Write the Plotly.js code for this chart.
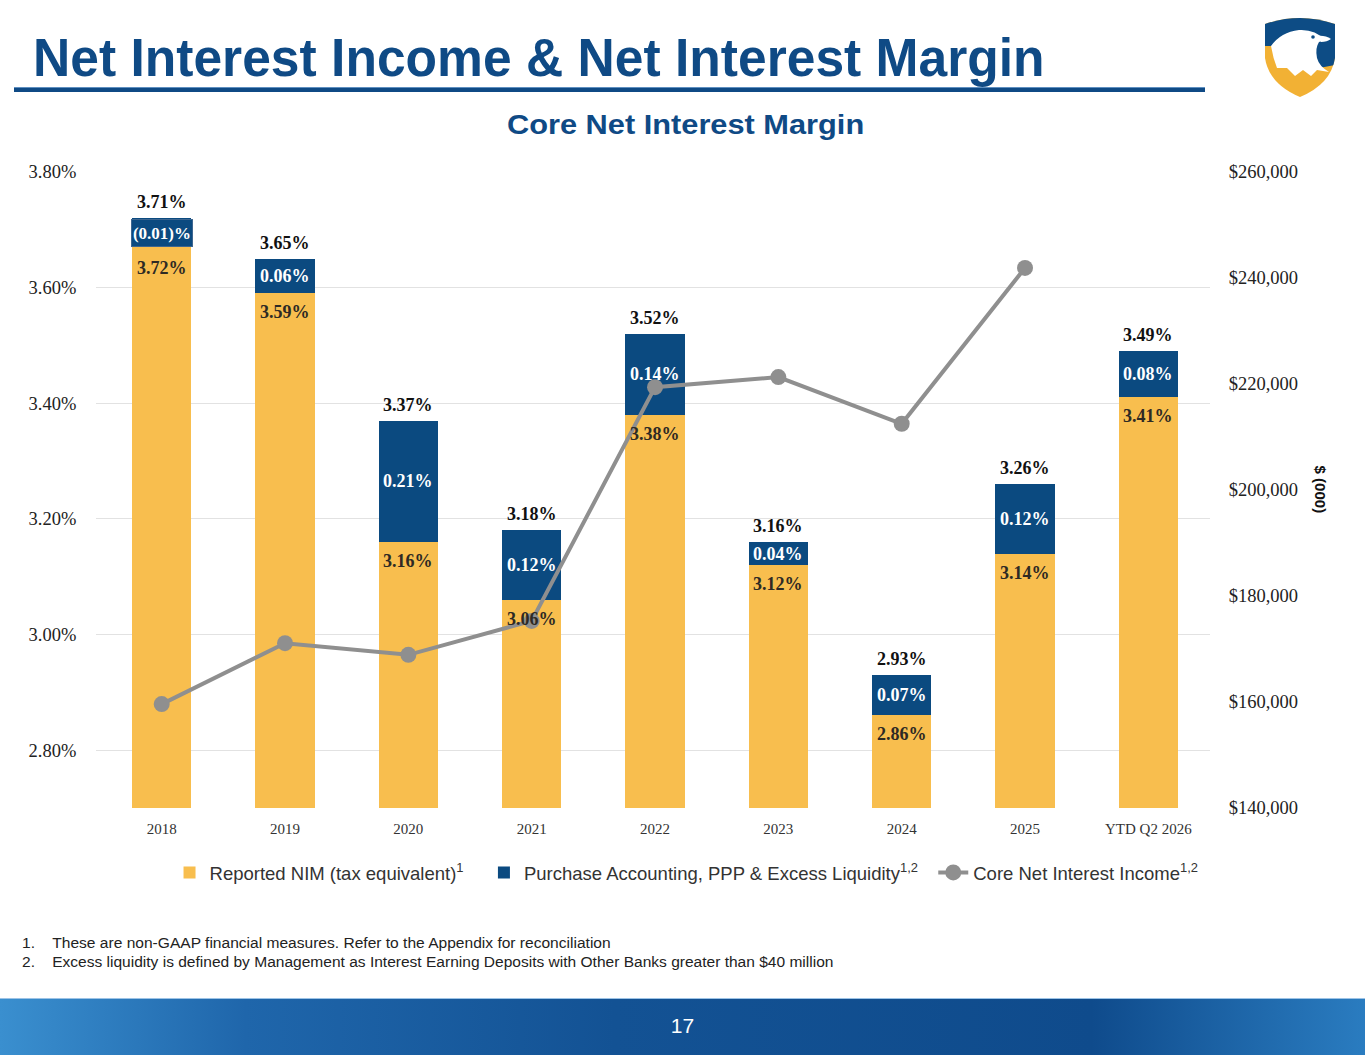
<!DOCTYPE html>
<html>
<head>
<meta charset="utf-8">
<script src="https://cdn.plot.ly/plotly-3.0.1.min.js"></script>
<style>
  body { margin: 0; background: #fff; }
  #slide { position: relative; width: 1365px; height: 1055px; overflow: hidden; background: #fff; font-family: 'Liberation Sans', Arial, sans-serif; }
  .fit { position: absolute; white-space: nowrap; transform-origin: left top; }
  #title { left: 33px; top: 27px; font-size: 53px; font-weight: bold; color: #0f4a85; }
  #rule { position: absolute; left: 14px; top: 87px; width: 1191px; height: 4px; background: #0f4a85; border-top: 1px solid #5f8fc0; }
  #subtitle { top: 109px; font-size: 28px; font-weight: bold; color: #0f4a85; }
  .note { left: 22px; font-size: 14px; color: #222; }
  #footer { position: absolute; left: 0; top: 998px; width: 1365px; height: 57px;
    background: linear-gradient(90deg, #3a8fcf 0%, #1f66ab 18%, #135294 45%, #0f4b8c 80%, #2a7cc0 100%);
    border-top: 1px solid #9cc3e6; }
  #pagenum { position: absolute; left: 0; width: 1365px; top: 1014px; text-align: center; color: #fff; font-size: 21px; }
  #chart { position: absolute; left: 0; top: 0; width: 1365px; height: 1055px; }
  #logo { position: absolute; left: 1259px; top: 12px; }
</style>
</head>
<body>
<div id="slide">
  <div id="title" class="fit">Net Interest Income &amp; Net Interest Margin</div>
  <div id="rule"></div>
  <div id="subtitle" class="fit">Core Net Interest Margin</div>
  <svg id="logo" width="82" height="86" viewBox="0 0 82 86">
    <defs>
      <clipPath id="shield">
        <path d="M6,12 Q41,0 76,12 L76,46 Q72,72 41,85 Q10,72 6,46 Z"/>
      </clipPath>
    </defs>
    <g clip-path="url(#shield)">
      <rect x="0" y="0" width="82" height="86" fill="#f2b134"/>
      <path d="M0,0 L82,0 L82,52 L60,56 L20,34 L0,34 Z" fill="#0d4c85"/>
      <path d="M12,34 Q22,20 40,18 Q56,17 66,28 L60,30 Q56,36 58,46 Q60,54 70,60 L58,58 L52,64 L44,58 L36,64 L28,56 L18,56 Q14,46 12,34 Z" fill="#ffffff"/>
      <path d="M58,24 Q66,23 72,27 Q68,30 62,30 Z" fill="#ffffff"/>
      <circle cx="54" cy="25" r="1.8" fill="#0d4c85"/>
    </g>
  </svg>
  <div id="note1" class="fit note" style="top:935px">1.&nbsp;&nbsp;&nbsp;&nbsp;These are non-GAAP financial measures. Refer to the Appendix for reconciliation</div>
  <div id="note2" class="fit note" style="top:954px">2.&nbsp;&nbsp;&nbsp;&nbsp;Excess liquidity is defined by Management as Interest Earning Deposits with Other Banks greater than $40 million</div>
  <div id="footer"></div>
  <div id="pagenum">17</div>
  <div id="chart"></div>
</div>
<script>
var years = ['2018', '2019', '2020', '2021', '2022', '2023', '2024', '2025', 'YTD Q2 2026'];
var reportedNim = [3.72, 3.59, 3.16, 3.06, 3.38, 3.12, 2.86, 3.14, 3.41];
var purchaseAdj = [-0.01, 0.06, 0.21, 0.12, 0.14, 0.04, 0.07, 0.12, 0.08];
var coreNimTotal = [3.71, 3.65, 3.37, 3.18, 3.52, 3.16, 2.93, 3.26, 3.49];
var nimYears = ['2018', '2019', '2020', '2021', '2022', '2023', '2024', '2025'];
var coreNetInterestIncome = [159600, 171100, 168900, 175300, 219400, 221300, 212500, 241900];
var nimTicks = [2.8, 3.0, 3.2, 3.4, 3.6, 3.8];
var nimTickText = ['2.80%', '3.00%', '3.20%', '3.40%', '3.60%', '3.80%'];
var incomeTicks = [140000, 160000, 180000, 200000, 220000, 240000, 260000];
var incomeTickText = ['$140,000', '$160,000', '$180,000', '$200,000', '$220,000', '$240,000', '$260,000'];

// squeeze slide text to the widths it has on the slide
function fitWidth(id, target, left) {
    var el = document.getElementById(id);
    var w = el.offsetWidth;
    el.style.transform = 'scaleX(' + (target / w) + ')';
    if (left !== undefined) el.style.left = left + 'px';
}
fitWidth('title', 1012);
fitWidth('subtitle', 357, 685 - 357 / 2);
fitWidth('note1', 589);
fitWidth('note2', 812);

var yellow = '#f8be4e';
var navy = '#0b4a80';
var gray = '#8f8f8f';
var serif = 'Liberation Serif, Times New Roman, serif';

function pct(v) {
    return v < 0 ? '(' + Math.abs(v).toFixed(2) + ')%' : v.toFixed(2) + '%';
}

var data = [{
    type: 'bar',
    x: years,
    y: reportedNim,
    name: 'Reported NIM (tax equivalent)<sup>1</sup>\u00a0\u00a0\u00a0',
    marker: { color: yellow },
    width: 0.48,
    hoverinfo: 'none'
}, {
    type: 'bar',
    x: years,
    y: purchaseAdj,
    name: 'Purchase Accounting, PPP &amp; Excess Liquidity<sup>1,2</sup>\u00a0\u00a0',
    marker: { color: navy },
    width: 0.48,
    hoverinfo: 'none'
}, {
    type: 'scatter',
    mode: 'lines+markers',
    x: nimYears,
    y: coreNetInterestIncome,
    yaxis: 'y2',
    name: 'Core Net Interest Income<sup>1,2</sup>',
    line: { color: gray, width: 4 },
    marker: { color: gray, size: 16 },
    hoverinfo: 'none'
}];

var annotations = [];
years.forEach(function (yr, i) {
    var top = Math.max(reportedNim[i], reportedNim[i] + purchaseAdj[i]);
    annotations.push({
        x: i, y: top, xref: 'x', yref: 'y', text: '<b>' + pct(coreNimTotal[i]) + '</b>',
        showarrow: false, yanchor: 'bottom', yshift: 4,
        font: { family: serif, size: 18, color: '#111' }
    });
    if (purchaseAdj[i] < 0) {
        annotations.push({
            x: i, y: reportedNim[i], xref: 'x', yref: 'y', text: '<b>' + pct(purchaseAdj[i]) + '</b>',
            showarrow: false, yanchor: 'top', yshift: -1, width: 58, height: 24,
            bgcolor: navy, bordercolor: '#3d6690', borderwidth: 1, borderpad: 1,
            font: { family: serif, size: 17, color: '#fff' }
        });
    } else {
        annotations.push({
            x: i, y: reportedNim[i] + purchaseAdj[i] / 2, xref: 'x', yref: 'y',
            text: '<b>' + pct(purchaseAdj[i]) + '</b>', showarrow: false, yanchor: 'middle',
            font: { family: serif, size: 18, color: '#fff' }
        });
    }
    annotations.push({
        x: i, y: reportedNim[i], xref: 'x', yref: 'y', text: '<b>' + pct(reportedNim[i]) + '</b>',
        showarrow: false, yanchor: 'middle', yshift: purchaseAdj[i] < 0 ? -50 : -19,
        font: { family: serif, size: 18, color: '#2e2a24' }
    });
});
annotations.push({
    xref: 'paper', yref: 'paper', x: 1.1, xanchor: 'center', y: 0.5, yanchor: 'middle',
    text: '<b>$ (000)</b>', textangle: 90,
    showarrow: false, font: { family: 'Liberation Sans, Arial', size: 15, color: '#111' }
});

var layout = {
    width: 1365,
    height: 1055,
    margin: { l: 96, r: 155, t: 172, b: 247 },
    paper_bgcolor: 'rgba(0,0,0,0)',
    plot_bgcolor: 'rgba(0,0,0,0)',
    barmode: 'stack',
    showlegend: true,
    legend: {
        orientation: 'h', x: 0.066, xanchor: 'left', y: -0.102, yanchor: 'middle',
        font: { family: 'Liberation Sans, Arial', size: 18.5, color: '#333' },
        traceorder: 'normal'
    },
    xaxis: {
        type: 'category',
        categoryorder: 'array',
        categoryarray: years,
        tickfont: { family: serif, size: 15, color: '#333' },
        showline: false, showgrid: false,
        ticks: 'outside', ticklen: 7, tickcolor: 'rgba(0,0,0,0)'
    },
    yaxis: {
        range: [2.70, 3.80],
        tickmode: 'array',
        tickvals: nimTicks,
        ticktext: nimTickText,
        tickfont: { family: serif, size: 18.5, color: '#222' },
        gridcolor: '#e2e2e2', gridwidth: 1,
        zeroline: false, showline: false,
        ticks: 'outside', ticklen: 15, tickcolor: 'rgba(0,0,0,0)'
    },
    yaxis2: {
        overlaying: 'y', side: 'right',
        range: [140000, 260000],
        tickmode: 'array',
        tickvals: incomeTicks,
        ticktext: incomeTickText,
        tickfont: { family: serif, size: 18.5, color: '#222' },
        showgrid: false, zeroline: false, showline: false,
        ticks: 'outside', ticklen: 14, tickcolor: 'rgba(0,0,0,0)'
    },
    annotations: annotations
};

Plotly.newPlot('chart', data, layout, { displayModeBar: false, staticPlot: true });
</script>
</body>
</html>
